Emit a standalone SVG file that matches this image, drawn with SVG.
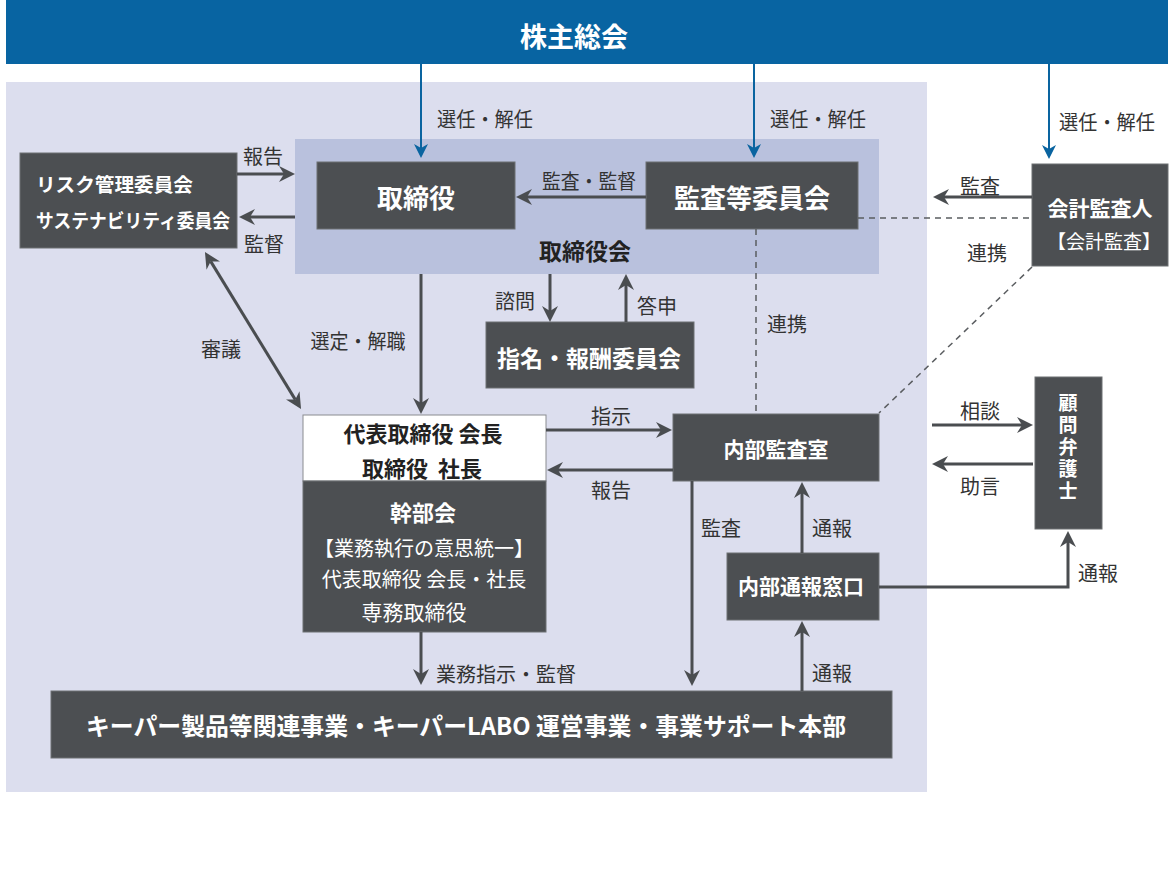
<svg xmlns="http://www.w3.org/2000/svg" width="1176" height="874" viewBox="0 0 1176 874">
<style>
text{font-family:"Noto Sans CJK JP","Noto Sans",sans-serif;dominant-baseline:central;text-anchor:middle;white-space:pre}
.box{fill:#4c4f52;stroke:#6d7073;stroke-width:1}
.wt{fill:#ffffff;font-weight:bold}
.wn{fill:#ffffff}
.dk{fill:#222222;font-weight:bold}
.lb{fill:#333333;font-size:20px}
.ln{fill:none;stroke:#4a4d50;stroke-width:3}
.bl{fill:none;stroke:#0a64a0;stroke-width:2}
.ds{fill:none;stroke:#5a5d60;stroke-width:1.5;stroke-dasharray:6 5}
</style>
<defs>
<marker id="ag" viewBox="0 0 16 16" refX="5" refY="8" markerWidth="16" markerHeight="16" markerUnits="userSpaceOnUse" orient="auto-start-reverse">
<path d="M0,0 L16,8 L0,16 L5,8 Z" fill="#4a4d50"/>
</marker>
<marker id="ab" viewBox="0 0 14 14" refX="4" refY="7" markerWidth="14" markerHeight="14" markerUnits="userSpaceOnUse" orient="auto">
<path d="M0,0 L14,7 L0,14 L4,7 Z" fill="#0a64a0"/>
</marker>
</defs>
<rect width="1176" height="874" fill="#ffffff"/>
<g id="bg-company"><rect x="6" y="82" width="921" height="710" fill="#dcdeee"/></g>
<g id="shareholders">
<rect x="6" y="0" width="1162" height="64" fill="#0864a2"/>
<text x="574" y="35" class="wt" font-size="27">株主総会</text>
</g>
<g id="board-council">
<rect x="295" y="139" width="584" height="135" fill="#b9c1dd"/>
<text x="585" y="250" class="dk" font-size="23">取締役会</text>
</g>
<g id="directors">
<rect x="317" y="162" width="198" height="67" class="box"/>
<text x="416" y="196" class="wt" font-size="26">取締役</text>
</g>
<g id="audit-committee">
<rect x="646" y="162" width="212" height="67" class="box"/>
<text x="752" y="196" class="wt" font-size="26">監査等委員会</text>
</g>
<g id="risk-committee">
<rect x="20" y="153" width="217" height="95" class="box"/>
<text x="36" y="183" class="wt" font-size="19" style="text-anchor:start" textLength="157" lengthAdjust="spacingAndGlyphs">リスク管理委員会</text>
<text x="36" y="219" class="wt" font-size="19" style="text-anchor:start" textLength="194" lengthAdjust="spacingAndGlyphs">サステナビリティ委員会</text>
</g>
<g id="nomination-committee">
<rect x="486" y="322" width="208" height="66" class="box"/>
<text x="589" y="357" class="wt" font-size="23">指名・報酬委員会</text>
</g>
<g id="accounting-auditor">
<rect x="1032" y="164" width="136" height="102" class="box"/>
<text x="1100" y="207" class="wt" font-size="21">会計監査人</text>
<text x="1104" y="240" class="wn" font-size="19">【会計監査】</text>
</g>
<g id="president">
<rect x="303" y="415" width="243" height="66" fill="#ffffff" stroke="#8a8c90" stroke-width="1"/>
<rect x="303" y="481" width="243" height="151" class="box"/>
<text x="423" y="432" class="dk" font-size="22">代表取締役 会長</text>
<text x="422" y="467" class="dk" font-size="22">取締役  社長</text>
<text x="423" y="511" class="wt" font-size="22">幹部会</text>
<text x="424" y="547" class="wn" font-size="20">【業務執行の意思統一】</text>
<text x="424" y="578" class="wn" font-size="20">代表取締役 会長・社長</text>
<text x="414" y="611" class="wn" font-size="21">専務取締役</text>
</g>
<g id="internal-audit">
<rect x="673" y="414" width="206" height="67" class="box"/>
<text x="776" y="448" class="wt" font-size="21">内部監査室</text>
</g>
<g id="whistleblow">
<rect x="727" y="553" width="152" height="67" class="box"/>
<text x="801" y="585" class="wt" font-size="21">内部通報窓口</text>
</g>
<g id="lawyer">
<rect x="1035" y="377" width="67" height="152" class="box"/>
<text x="1068" y="448" class="wt" font-size="19" writing-mode="tb" style="letter-spacing:3px">顧問弁護士</text>
</g>
<g id="business-units">
<rect x="51" y="691" width="841" height="67" class="box"/>
<text x="466" y="724" class="wt" font-size="24" textLength="760" lengthAdjust="spacingAndGlyphs">キーパー製品等関連事業・キーパーLABO 運営事業・事業サポート本部</text>
</g>
<g id="connectors">
<line x1="421" y1="64" x2="421" y2="148" class="bl" marker-end="url(#ab)"/>
<line x1="754" y1="64" x2="754" y2="148" class="bl" marker-end="url(#ab)"/>
<line x1="1049" y1="64" x2="1049" y2="149" class="bl" marker-end="url(#ab)"/>
<line x1="237" y1="174" x2="284" y2="174" class="ln" marker-end="url(#ag)"/>
<line x1="295" y1="217" x2="250" y2="217" class="ln" marker-end="url(#ag)"/>
<line x1="210.7" y1="261.4" x2="295.3" y2="399.6" class="ln" marker-start="url(#ag)" marker-end="url(#ag)"/>
<line x1="646" y1="197" x2="527" y2="197" class="ln" marker-end="url(#ag)"/>
<line x1="421" y1="274" x2="421" y2="403" class="ln" marker-end="url(#ag)"/>
<line x1="550" y1="274" x2="550" y2="311" class="ln" marker-end="url(#ag)"/>
<line x1="626" y1="322" x2="626" y2="285" class="ln" marker-end="url(#ag)"/>
<line x1="546" y1="430" x2="661" y2="430" class="ln" marker-end="url(#ag)"/>
<line x1="673" y1="470" x2="558" y2="470" class="ln" marker-end="url(#ag)"/>
<line x1="692" y1="481" x2="692" y2="675" class="ln" marker-end="url(#ag)"/>
<line x1="802" y1="553" x2="802" y2="493" class="ln" marker-end="url(#ag)"/>
<line x1="802" y1="691" x2="802" y2="632" class="ln" marker-end="url(#ag)"/>
<line x1="421" y1="632" x2="421" y2="674" class="ln" marker-end="url(#ag)"/>
<path d="M879,587 H1068 V542" class="ln" marker-end="url(#ag)"/>
<line x1="932" y1="425" x2="1022" y2="425" class="ln" marker-end="url(#ag)"/>
<line x1="1033" y1="464" x2="943" y2="464" class="ln" marker-end="url(#ag)"/>
<line x1="1032" y1="197" x2="944" y2="197" class="ln" marker-end="url(#ag)"/>
<line x1="756" y1="229" x2="756" y2="414" class="ds"/>
<line x1="858" y1="218" x2="1032" y2="218" class="ds"/>
<line x1="1032" y1="267" x2="879" y2="413" class="ds"/>
</g>
<g id="labels">
<text x="485" y="118" class="lb" textLength="96" lengthAdjust="spacingAndGlyphs">選任・解任</text>
<text x="818" y="118" class="lb" textLength="96" lengthAdjust="spacingAndGlyphs">選任・解任</text>
<text x="1107" y="121" class="lb" textLength="96" lengthAdjust="spacingAndGlyphs">選任・解任</text>
<text x="263" y="155" class="lb">報告</text>
<text x="264" y="243" class="lb">監督</text>
<text x="221" y="348" class="lb">審議</text>
<text x="589" y="180" class="lb" textLength="94" lengthAdjust="spacingAndGlyphs">監査・監督</text>
<text x="358" y="340" class="lb" textLength="95" lengthAdjust="spacingAndGlyphs">選定・解職</text>
<text x="515" y="300" class="lb">諮問</text>
<text x="657" y="305" class="lb">答申</text>
<text x="787" y="323" class="lb">連携</text>
<text x="980" y="185" class="lb">監査</text>
<text x="987" y="252" class="lb">連携</text>
<text x="611" y="415" class="lb">指示</text>
<text x="611" y="489" class="lb">報告</text>
<text x="721" y="527" class="lb">監査</text>
<text x="832" y="527" class="lb">通報</text>
<text x="832" y="672" class="lb">通報</text>
<text x="980" y="410" class="lb">相談</text>
<text x="980" y="485" class="lb">助言</text>
<text x="1098" y="572" class="lb">通報</text>
<text x="506" y="673" class="lb">業務指示・監督</text>
</g>
</svg>
